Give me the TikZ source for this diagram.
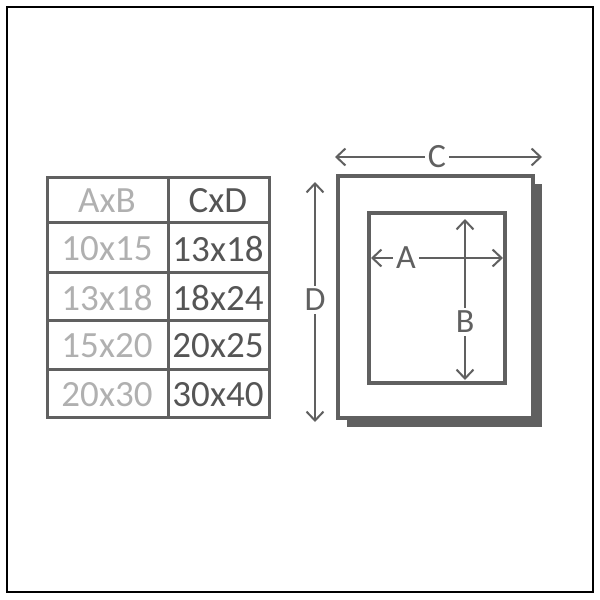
\documentclass[tikz,border=0pt]{standalone}
\usepackage{fontspec}
\setmainfont{Carlito}
\usetikzlibrary{arrows.meta}
\definecolor{linegray}{HTML}{606060}
\definecolor{lightgray}{HTML}{B0B0B0}
\definecolor{darkgray}{HTML}{555555}
\begin{document}
\begin{tikzpicture}[
       x=1pt,y=-1pt,
       rule/.style={draw=linegray,line width=3pt},
       small/.style={text=lightgray,font=\fontsize{37}{37}\selectfont,inner sep=0pt},
       big/.style={text=darkgray,font=\fontsize{37}{37}\selectfont,inner sep=0pt},
       letter/.style={text=linegray,font=\fontsize{34}{34}\selectfont,inner sep=3pt},
       dim/.style={draw=linegray,line width=2pt,-{Straight Barb[length=9pt,width=17pt]}}
     ]

       \useasboundingbox (0,0) rectangle (600,600);
       \draw[line width=2pt] (7,7) rectangle (593,592);

       % table
       \draw[rule] (47,177) rectangle (269,417);
       \draw[rule] (168,177) -- (168,417);
       \draw[rule] (47,222) -- (269,222);
       \draw[rule] (47,272) -- (269,272);
       \draw[rule] (47,320) -- (269,320);
       \draw[rule] (47,369) -- (269,369);

       \node (h1) at (107,201) [small]{AxB};
       \node (h2) at (218,201) [big]{CxD};
       \node (r11) at (107,249) [small]{10x15};
       \node (r12) at (218,249) [big]{13x18};
       \node (r21) at (107,298) [small]{13x18};
       \node (r22) at (218,298) [big]{18x24};
       \node (r31) at (107,346) [small]{15x20};
       \node (r32) at (218,346) [big]{20x25};
       \node (r41) at (107,395) [small]{20x30};
       \node (r42) at (218,395) [big]{30x40};

       % frame
       \fill[linegray] (347,184) rectangle (542,427);
       \draw[rule,line width=3.5pt,fill=white] (338,176) rectangle (533,418);
       \draw[rule,line width=3.5pt] (369,213) rectangle (505,383);

       % dimensions
       \node (lC) at (437,157) [letter]{C};
       \node (lD) at (315,300) [letter]{D};
       \node (lA) at (406,258) [letter]{A};
       \node (lB) at (465,322) [letter]{B};

       \coordinate (c1) at (335,157);
       \coordinate (c2) at (542,157);
       \coordinate (d1) at (315,182);
       \coordinate (d2) at (315,422);
       \coordinate (a1) at (371,258);
       \coordinate (a2) at (503,258);
       \coordinate (b1) at (465,219);
       \coordinate (b2) at (465,380);

       \draw[dim] (lC) -- (c1);
       \draw[dim] (lC) -- (c2);
       \draw[dim] (lD) -- (d1);
       \draw[dim] (lD) -- (d2);
       \draw[dim] (lA) -- (a1);
       \draw[dim] (lA) -- (a2);
       \draw[dim] (lB) -- (b1);
       \draw[dim] (lB) -- (b2);

\end{tikzpicture}
\end{document}
